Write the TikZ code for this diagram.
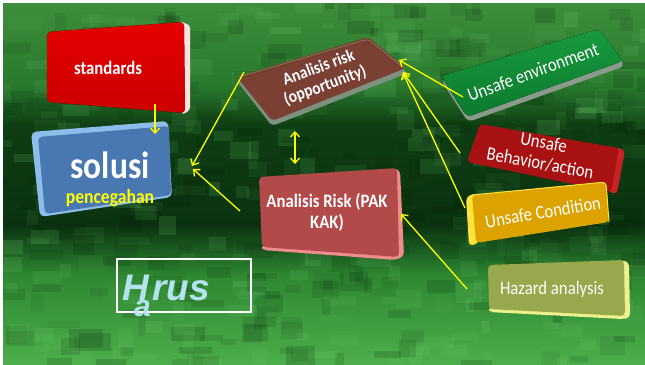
\documentclass[tikz,border=0pt]{standalone}
\usepackage{fontspec}
\setmainfont[FakeStretch=0.88]{Carlito}
\newfontfamily\hrusfont{Liberation Sans}
\usetikzlibrary{arrows.meta}
\definecolor{bgA}{HTML}{3E8E3C}
\definecolor{bgB}{HTML}{2A7A2E}
\definecolor{bgC}{HTML}{0E3E13}
\definecolor{bgCC}{HTML}{0A3210}
\definecolor{bgD}{HTML}{2E8832}
\definecolor{bgE}{HTML}{4CAE4C}
\definecolor{blkLight}{HTML}{7AD67A}
\definecolor{blkDark}{HTML}{001A02}
\definecolor{stdRed}{HTML}{E40000}
\definecolor{stdRedB}{HTML}{CC0000}
\definecolor{soluBlue}{HTML}{4977B2}
\definecolor{soluEdge}{HTML}{8DBDEB}
\definecolor{oppRed}{HTML}{7A3A2E}
\definecolor{oppEdge}{HTML}{7E9080}
\definecolor{pakRed}{HTML}{B24A4A}
\definecolor{pakEdge}{HTML}{F08C8C}
\definecolor{envGreen}{HTML}{179A3E}
\definecolor{envGreenB}{HTML}{0C7A2E}
\definecolor{envEdge}{HTML}{8A9A8C}
\definecolor{behRed}{HTML}{A81212}
\definecolor{behEdge}{HTML}{C62424}
\definecolor{condYel}{HTML}{DBA200}
\definecolor{condEdge}{HTML}{FFE23A}
\definecolor{hazOlive}{HTML}{98A84C}
\definecolor{hazEdge}{HTML}{EEF08C}
\definecolor{arrowYellow}{HTML}{FFFF00}
\definecolor{penYellow}{HTML}{FFFF00}
\definecolor{hrusBlue}{HTML}{B4E2EE}
\tikzset{
  lbl/.style={text=white, align=center, inner sep=0pt},
  boldlbl/.style={lbl, font=\bfseries\fontsize{19}{21}\selectfont},
  reglbl/.style={lbl, font=\fontsize{19}{21}\selectfont},
  yarrow/.style={draw=arrowYellow, line width=1.3pt, -{Straight Barb[length=5pt,width=9pt]}},
  ydouble/.style={draw=arrowYellow, line width=1.3pt, {Straight Barb[length=5pt,width=9pt]}-{Straight Barb[length=5pt,width=9pt]}},
  hrustxt/.style={text=hrusBlue, inner sep=0pt, font=\hrusfont\bfseries\itshape\fontsize{37}{37}\selectfont}
}
\begin{document}
\begin{tikzpicture}[x=1pt,y=-1pt]
\useasboundingbox (0,0) rectangle (645,364);
\fill[white] (0,0) rectangle (645,364);
% ---------- background ----------
\begin{scope}
\clip (3,3) rectangle (645,364);
\fill[top color=bgA, bottom color=bgB] (0,0) rectangle (645,85);
\fill[top color=bgB, bottom color=bgC] (0,85) rectangle (645,125);
\fill[top color=bgC, bottom color=bgCC] (0,125) rectangle (645,225);
\fill[top color=bgCC, bottom color=bgD] (0,225) rectangle (645,275);
\fill[top color=bgD, bottom color=bgE] (0,275) rectangle (645,364);
\pgfmathsetseed{7}
\foreach \i in {1,...,520}{
  \pgfmathtruncatemacro\bx{random(0,640)}
  \pgfmathtruncatemacro\by{random(0,360)}
  \pgfmathtruncatemacro\bw{random(8,34)}
  \pgfmathtruncatemacro\bh{random(6,20)}
  \pgfmathsetmacro\bo{0.05+0.12*rnd}
  \pgfmathtruncatemacro\bc{random(0,1)}
  \ifnum\bc=0
    \fill[blkLight, opacity=\bo] (\bx,\by) rectangle ++(\bw,\bh);
  \else
    \fill[blkDark, opacity=\bo] (\bx,\by) rectangle ++(\bw,\bh);
  \fi
}
\end{scope}
% ---------- standards ----------
\fill[white!88!red, rounded corners=3pt] (178,21) -- (190,25) -- (190,110) -- (182,115) -- cycle;
\fill[top color=stdRed, bottom color=stdRedB, rounded corners=4pt] (47,32) -- (184,22) -- (185,113) -- (47,102) -- cycle;
\node[boldlbl] (standards) at (108,68) {standards};
% ---------- solusi ----------
\fill[soluEdge, rounded corners=5pt] (31,132) -- (168,121) -- (172,197) -- (40,217) -- cycle;
\fill[soluBlue, rounded corners=4pt] (38,137) -- (169,126) -- (171,195) -- (45,214) -- cycle;
\node[lbl, font=\bfseries\fontsize{38}{40}\selectfont] (solusi) at (110,165) {solusi};
\node[lbl, text=penYellow, font=\bfseries\fontsize{20}{21}\selectfont] (pencegahan) at (110,198) {pencegahan};
% ---------- Analisis risk (opportunity) ----------
\fill[oppEdge, rounded corners=4pt] (237,81) -- (368,41) -- (408,73) -- (272,126) -- cycle;
\fill[oppRed, opacity=0.92, rounded corners=4pt] (237,77) -- (368,37) -- (406,68) -- (272,121) -- cycle;
\draw[white, opacity=0.25, line width=0.8pt, rounded corners=4pt] (239,77) -- (368,39) -- (404,68);
\node[lbl, rotate=20, font=\bfseries\fontsize{17.5}{19}\selectfont] (opp) at (322,77) {Analisis risk\\(opportunity)};
% ---------- Analisis Risk (PAK KAK) ----------
\fill[pakEdge, rounded corners=4pt] (390,168) -- (400,170) -- (404,256) -- (396,260) -- (262,250) -- (262,246) -- cycle;
\fill[pakRed, rounded corners=4pt] (259,177) -- (397,168) -- (399,257) -- (262,247) -- cycle;
\node[boldlbl] (pak) at (327,212) {Analisis Risk (PAK\\KAK)};
% ---------- Unsafe environment ----------
\fill[envEdge, rounded corners=5pt] (441,80) -- (600,33) -- (625,66) -- (468,122) -- cycle;
\fill[top color=envGreen, bottom color=envGreenB, rounded corners=5pt] (441,76) -- (599,29) -- (623,61) -- (467,117) -- cycle;
\node[reglbl, rotate=20] (env) at (533,72) {Unsafe environment};
% ---------- Unsafe Behavior/action ----------
\fill[behEdge, rounded corners=4pt] (615,147) -- (625,150) -- (617,194) -- (608,192) -- cycle;
\fill[behRed, rounded corners=4pt] (480,124) -- (619,148) -- (611,192) -- (467,162) -- cycle;
\node[reglbl, rotate=-10] (beh) at (542,153) {Unsafe\\Behavior/action};
% ---------- Unsafe Condition ----------
\fill[condEdge, rounded corners=4pt] (466,197) -- (476,193) -- (479,243) -- (469,246) -- cycle;
\fill[condYel, rounded corners=4pt] (472,195) -- (606,182) -- (609,222) -- (476,243) -- cycle;
\draw[condEdge, line width=1pt, rounded corners=4pt] (472,195) -- (606,182) -- (609,222);
\node[reglbl, rotate=9.5] (cond) at (543,212) {Unsafe Condition};
% ---------- Hazard analysis ----------
\fill[hazEdge, rounded corners=4pt] (620,260) -- (629,262) -- (630,318) -- (622,319) -- (489,312) -- (489,308) -- cycle;
\fill[hazOlive, rounded corners=4pt] (488,265) -- (624,260) -- (625,316) -- (489,309) -- cycle;
\node[reglbl] (haz) at (552,289) {Hazard analysis};
% ---------- Hrus ----------
\draw[white, line width=1.8pt] (117,259) rectangle (251,312);
\node[hrustxt, anchor=base west] (hH) at (122,300) {H};
\node[hrustxt, anchor=base west] (hrus) at (152,300) {rus};
\node[hrustxt, anchor=base west, font=\hrusfont\bfseries\itshape\fontsize{30}{30}\selectfont] (ha) at (134,316) {a};
% ---------- arrows ----------
\coordinate (a1s) at (155,104); \coordinate (a1e) at (155,134);
\coordinate (a2s) at (244,72);  \coordinate (a2e) at (192,166);
\coordinate (a3s) at (240,211); \coordinate (a3e) at (193,169);
\coordinate (a4s) at (295,131); \coordinate (a4e) at (295,164);
\coordinate (a5s) at (463,97);  \coordinate (a5e) at (399,60);
\coordinate (a6s) at (460,153); \coordinate (a6e) at (403,72);
\coordinate (a7s) at (465,208); \coordinate (a7e) at (403,73);
\coordinate (a8s) at (467,289); \coordinate (a8e) at (401,214);
\draw[yarrow] (a1s) -- (a1e);
\draw[yarrow] (a2s) -- (a2e);
\draw[yarrow] (a3s) -- (a3e);
\draw[ydouble] (a4s) -- (a4e);
\draw[yarrow] (a5s) -- (a5e);
\draw[yarrow] (a6s) -- (a6e);
\draw[yarrow] (a7s) -- (a7e);
\draw[yarrow] (a8s) -- (a8e);
\end{tikzpicture}
\end{document}
